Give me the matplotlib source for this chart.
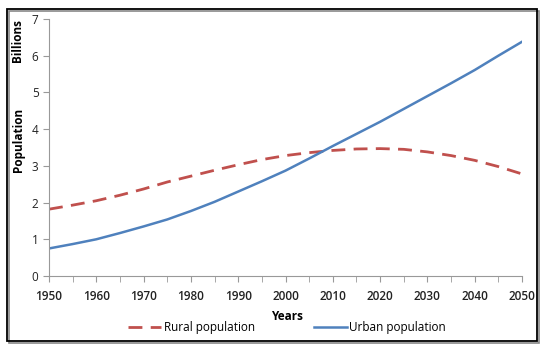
import matplotlib
matplotlib.use("Agg")
import matplotlib.pyplot as plt
from matplotlib.patches import Rectangle

plt.rcParams['font.family'] = ['Open Sans', 'DejaVu Sans']

years = [1950, 1955, 1960, 1965, 1970, 1975, 1980, 1985, 1990, 1995, 2000,
         2005, 2010, 2015, 2020, 2025, 2030, 2035, 2040, 2045, 2050]
urban = [0.75, 0.87, 1.0, 1.17, 1.35, 1.54, 1.77, 2.02, 2.3, 2.58, 2.87,
         3.2, 3.54, 3.87, 4.2, 4.55, 4.9, 5.25, 5.61, 6.0, 6.38]
rural = [1.82, 1.93, 2.05, 2.2, 2.37, 2.56, 2.72, 2.88, 3.03, 3.17, 3.28,
         3.36, 3.42, 3.46, 3.47, 3.45, 3.38, 3.28, 3.15, 2.98, 2.78]
xticks = list(range(1950, 2051, 10))
yticks = list(range(0, 8))

red = '#C0504D'
blue = '#4F81BD'

fig = plt.figure(figsize=(5.5, 3.5), dpi=100)
ax = fig.add_axes([49 / 550, 1 - 276 / 350, (522 - 49) / 550, (276 - 19) / 350])

ax.plot(years, rural, color=red, lw=2.0, ls=(0, (5, 3)), label='Rural population')
ax.plot(years, urban, color=blue, lw=1.8, label='Urban population')

ax.set_xlim(1950, 2050)
ax.set_ylim(0, 7)
ax.set_xticks(xticks)
ax.set_xticks(list(range(1955, 2050, 10)), minor=True)
ax.set_yticks(yticks)
for s in ['top', 'right']:
    ax.spines[s].set_visible(False)
for s in ['left', 'bottom']:
    ax.spines[s].set_color('#999999')
ax.tick_params(which='both', direction='out', color='#999999', length=4,
               labelsize=8.5, labelcolor='#222222')
ax.tick_params(axis='x', pad=6)
for lbl in ax.get_xticklabels():
    lbl.set_fontweight('semibold')

fig.text(287 / 550, 1 - 316 / 350, 'Years', ha='center', va='center',
         fontsize=8.5, fontweight='bold')
fig.text(18 / 550, 1 - 40 / 350, 'Billions', ha='center', va='center',
         rotation=90, fontsize=8.5, fontweight='bold')
fig.text(18 / 550, 1 - 140 / 350, 'Population', ha='center', va='center',
         rotation=90, fontsize=8.5, fontweight='bold')

fig.legend(loc='center', bbox_to_anchor=(287 / 550, 1 - 328 / 350), ncol=2,
           frameon=False, fontsize=8.5, handlelength=2.8, handletextpad=0.2,
           columnspacing=5)

# outer frame with shadow
fig.patches.append(Rectangle((9 / 550, 1 - 343 / 350), 530 / 550, 332 / 350,
                             transform=fig.transFigure, fill=False,
                             lw=1.2, edgecolor='#888888'))
fig.patches.append(Rectangle((7 / 550, 1 - 341 / 350), 530 / 550, 332 / 350,
                             transform=fig.transFigure, fill=False,
                             lw=1.3, edgecolor='black'))

fig.savefig('out.png', dpi=100)
